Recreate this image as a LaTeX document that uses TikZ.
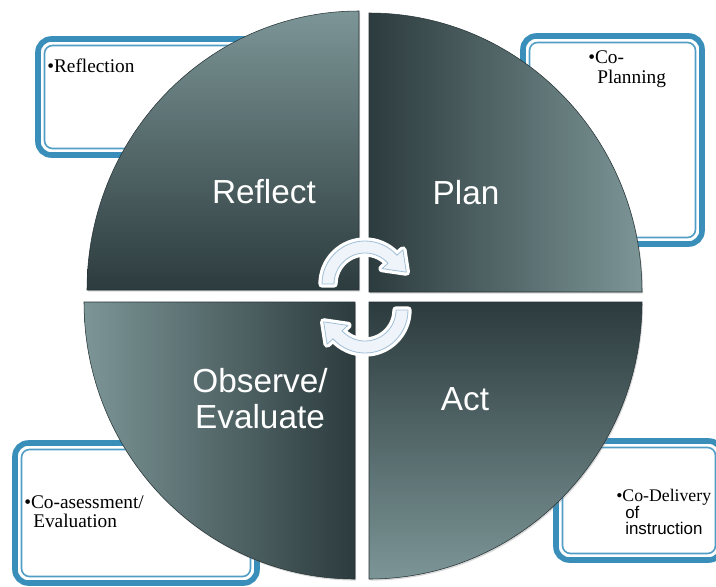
\documentclass[tikz,border=0pt]{standalone}
\usepackage{fontspec}
\setmainfont{Liberation Serif}
\newfontfamily\labelfont{Liberation Sans}
\usetikzlibrary{shadows,calc}
\definecolor{boxblue}{RGB}{58,143,186}
\definecolor{innerblue}{RGB}{80,158,198}
\definecolor{slatedark}{RGB}{44,59,62}
\definecolor{slatelight}{RGB}{124,149,150}
\definecolor{arrowfill}{RGB}{238,244,250}
\definecolor{arrowline}{RGB}{160,190,215}

\begin{document}
\begin{tikzpicture}[x=0.75pt, y=-0.75pt,
  outerframe/.style={draw=boxblue, line width=4.2pt, fill=white, rounded corners=10pt},
  innerframe/.style={draw=innerblue, line width=1.2pt, rounded corners=6pt},
  quad/.style={draw=slatedark!85!black, line width=0.4pt,
    drop shadow={opacity=0.3, shadow xshift=0.8pt, shadow yshift=-1.2pt}},
  bigtext/.style={text=white, font=\labelfont\fontsize{25}{30}\selectfont, anchor=base, inner sep=0pt},
  notetext/.style={text=black, font=\fontsize{14.5}{16}\selectfont, anchor=base west, inner sep=0pt},
  sanstext/.style={text=black, font=\labelfont\fontsize{12.7}{15}\selectfont, anchor=base west, inner sep=0pt},
  arrowglow/.style={fill=white, draw=white, line width=5.5pt, line join=round},
  cyclearrow/.style={fill=arrowfill, draw=arrowline, line width=0.6pt, line join=round, preaction={arrowglow}}
]
\clip (0,0) rectangle (716,586);
\fill[white] (0,0) rectangle (716,586);

% note frames behind the wheel
\draw[outerframe] (38,39) rectangle (277,155);
\draw[innerframe] (44.5,45.5) rectangle (270.5,148.5);
\draw[outerframe] (523,36) rectangle (702,244);
\draw[innerframe] (529.5,42.5) rectangle (695.5,237.5);
\draw[outerframe] (15,443) rectangle (257,583);
\draw[innerframe] (21.5,449.5) rectangle (250.5,576.5);
\draw[outerframe] (556,441) rectangle (722,560);
\draw[innerframe] (562.5,447.5) rectangle (715.5,553.5);

% note texts
\node[notetext] (refnote) at (47,72) {•Reflection};
\node[notetext] (plannote1) at (588,63) {•Co-};
\node[notetext] (plannote2) at (597,83) {Planning};
\node[notetext] (obsnote1) at (24,508) {•Co-asessment/};
\node[notetext] (obsnote2) at (33,527) {Evaluation};
\node[notetext, font=\fontsize{13.3}{16}\selectfont] (actnote1) at (616,501) {•Co-Delivery};
\node[sanstext] (actnote2) at (625,518) {of};
\node[sanstext] (actnote3) at (625,534) {instruction};

% the four quarters of the wheel
\path[quad, top color=slatelight, bottom color=slatedark]
  (359,290) -- ++(-272,0) arc[start angle=180, end angle=270, x radius=272, y radius=279] -- cycle;
\path[quad, left color=slatedark, right color=slatelight]
  (369,292) -- ++(0,-279) arc[start angle=270, end angle=360, x radius=273, y radius=279] -- cycle;
\path[quad, left color=slatelight, right color=slatedark]
  (355,302) -- ++(-271,0) arc[start angle=180, end angle=90, x radius=271, y radius=277] -- cycle;
\path[quad, top color=slatedark, bottom color=slatelight]
  (369,302) -- ++(273,0) arc[start angle=0, end angle=90, x radius=273, y radius=277] -- cycle;

% quarter labels
\node[bigtext] (reflect) at (264,203) {Reflect};
\node[bigtext] (plan) at (466,204) {Plan};
\node[bigtext] (observe) at (260,392) {Observe/};
\node[bigtext] (evaluate) at (260,428) {Evaluate};
\node[bigtext] (act) at (465,410) {Act};

% circular arrows in the middle
\coordinate (c1) at (365,284);
\coordinate (c2) at (365,310);
\path[cyclearrow]
  ($(c1)+(180:43)$) arc[start angle=180, end angle=318, radius=43]
  -- ($(c1)+(318:51)$) -- ($(c1)+(344:43)$) -- ($(c1)+(318:23)$)
  -- ($(c1)+(318:31)$) arc[start angle=318, end angle=180, radius=31] -- cycle;
\path[cyclearrow]
  ($(c2)+(0:43)$) arc[start angle=0, end angle=138, radius=43]
  -- ($(c2)+(138:51)$) -- ($(c2)+(164:43)$) -- ($(c2)+(138:23)$)
  -- ($(c2)+(138:31)$) arc[start angle=138, end angle=0, radius=31] -- cycle;
\end{tikzpicture}
\end{document}
